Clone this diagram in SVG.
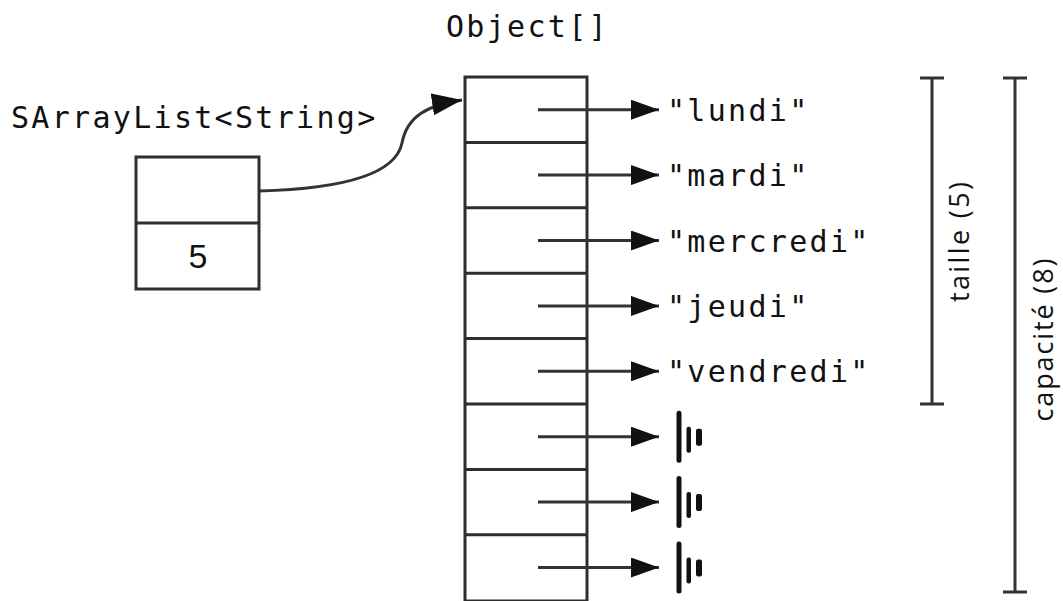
<svg xmlns="http://www.w3.org/2000/svg" width="1063" height="601" viewBox="0 0 1063 601">
<style>
.box{fill:none;stroke:#2e2e2e;stroke-width:3}
.ln{fill:none;stroke:#333;stroke-width:3}
.mono{font-family:"DejaVu Sans Mono","Liberation Mono",monospace;font-size:30px;letter-spacing:2.3px;fill:#111}
.sans{font-family:"Open Sans","Noto Sans",sans-serif;font-size:27px;fill:#111}
.num{font-family:"Liberation Sans",Arial,sans-serif;font-size:34px;fill:#111}
.nul{fill:#111}
</style>
<defs>
<marker id="ah" markerUnits="userSpaceOnUse" markerWidth="28" markerHeight="20" refX="28" refY="10" orient="auto" viewBox="0 0 28 20">
<path d="M0,0 L28,10 L0,20 z" fill="#111"/>
</marker>
<marker id="ah2" markerUnits="userSpaceOnUse" markerWidth="30" markerHeight="22" refX="30" refY="11" orient="auto" viewBox="0 0 30 22">
<path d="M0,0 L30,11 L0,22 z" fill="#111"/>
</marker>
<g id="nullsym">
<rect x="-2.5" y="-26" width="5" height="52" rx="2.5" class="nul"/>
<rect x="7.5" y="-10" width="4.5" height="26" rx="2" class="nul"/>
<rect x="17" y="-8" width="6" height="17" rx="2" class="nul"/>
</g>
</defs>

<g id="labels">
<text class="mono" x="446" y="37">Object[]</text>
<text class="mono" x="11" y="128">SArrayList&lt;String&gt;</text>
</g>

<g id="sarraylist">
<rect class="box" x="136" y="157" width="123" height="132"/>
<line class="box" x1="136" y1="223" x2="259" y2="223"/>
<text class="num" x="198" y="268" text-anchor="middle">5</text>
</g>

<g id="array">
<rect class="box" x="465" y="77" width="122" height="524"/>
<line class="box" x1="465" y1="142.4" x2="587" y2="142.4"/>
<line class="box" x1="465" y1="207.8" x2="587" y2="207.8"/>
<line class="box" x1="465" y1="273.2" x2="587" y2="273.2"/>
<line class="box" x1="465" y1="338.6" x2="587" y2="338.6"/>
<line class="box" x1="465" y1="404" x2="587" y2="404"/>
<line class="box" x1="465" y1="469.4" x2="587" y2="469.4"/>
<line class="box" x1="465" y1="534.8" x2="587" y2="534.8"/>
</g>

<g id="values">
<text class="mono" x="667" y="120.7">"lundi"</text>
<text class="mono" x="667" y="186.1">"mardi"</text>
<text class="mono" x="667" y="251.5">"mercredi"</text>
<text class="mono" x="667" y="316.9">"jeudi"</text>
<text class="mono" x="667" y="382.3">"vendredi"</text>
<use href="#nullsym" x="679" y="436.7"/>
<use href="#nullsym" x="679" y="502.1"/>
<use href="#nullsym" x="679" y="567.5"/>
</g>

<g id="connectors">
<path class="ln" d="M259,191 C335,189 395,177 402,143 C407,116 428,105 462,100" marker-end="url(#ah2)"/>
<line class="ln" x1="538" y1="109.7" x2="659" y2="109.7" marker-end="url(#ah)"/>
<line class="ln" x1="538" y1="175.1" x2="659" y2="175.1" marker-end="url(#ah)"/>
<line class="ln" x1="538" y1="240.5" x2="659" y2="240.5" marker-end="url(#ah)"/>
<line class="ln" x1="538" y1="305.9" x2="659" y2="305.9" marker-end="url(#ah)"/>
<line class="ln" x1="538" y1="371.3" x2="659" y2="371.3" marker-end="url(#ah)"/>
<line class="ln" x1="538" y1="436.7" x2="659" y2="436.7" marker-end="url(#ah)"/>
<line class="ln" x1="538" y1="502.1" x2="659" y2="502.1" marker-end="url(#ah)"/>
<line class="ln" x1="538" y1="567.5" x2="659" y2="567.5" marker-end="url(#ah)"/>
</g>

<g id="taille">
<line class="ln" x1="932" y1="77" x2="932" y2="404"/>
<line class="ln" x1="920" y1="78" x2="944" y2="78"/>
<line class="ln" x1="920" y1="404" x2="944" y2="404"/>
<text class="sans" transform="translate(969,242) rotate(-90)" text-anchor="middle" textLength="120" lengthAdjust="spacing">taille (5)</text>
</g>

<g id="capacite">
<line class="ln" x1="1015" y1="77" x2="1015" y2="593"/>
<line class="ln" x1="1003" y1="78" x2="1027" y2="78"/>
<line class="ln" x1="1003" y1="592" x2="1027" y2="592"/>
<text class="sans" transform="translate(1053,340) rotate(-90)" text-anchor="middle" textLength="163" lengthAdjust="spacing">capacité (8)</text>
</g>
</svg>
